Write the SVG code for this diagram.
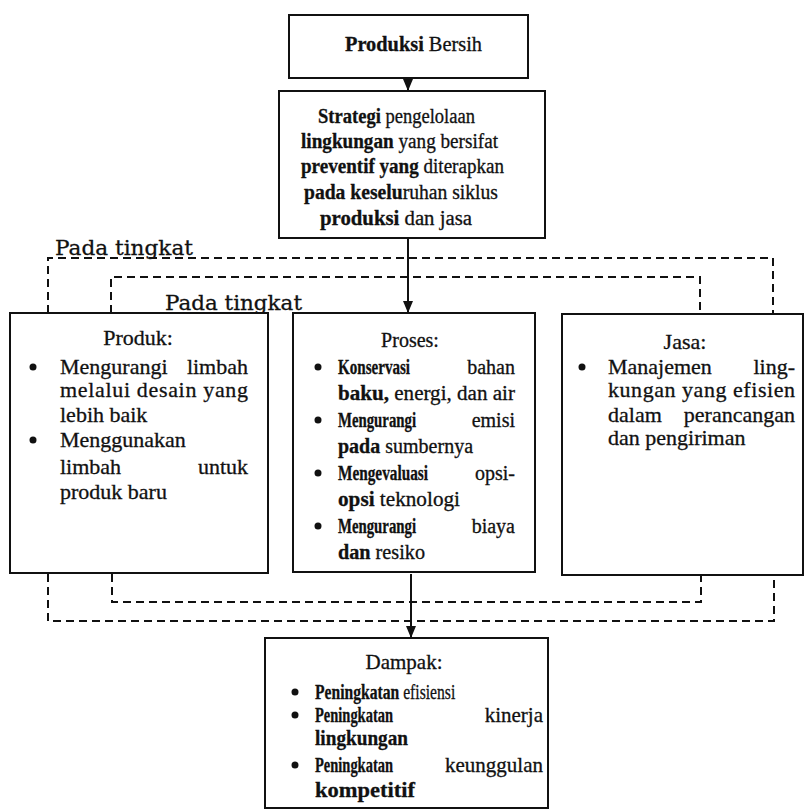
<svg xmlns="http://www.w3.org/2000/svg" width="806" height="811" viewBox="0 0 806 811">
<style>
.box{fill:#fff;stroke:#111;stroke-width:2}
.t{font-family:"Liberation Serif","Times New Roman",serif;fill:#111;stroke:#111;stroke-width:0.3}
.s20{font-size:20px}.s21{font-size:21px}.s22{font-size:22px}
.b{font-weight:bold}
.e{text-anchor:end}.m{text-anchor:middle}
.dash{fill:none;stroke:#111;stroke-width:2;stroke-dasharray:8 5}
.arr{fill:none;stroke:#111;stroke-width:2;marker-end:url(#ah)}
.pt{font-family:"DejaVu Serif",serif;font-size:21px;fill:#111;stroke:#111;stroke-width:0.3}
.dot{fill:#111}
</style>
<defs>
<marker id="ah" viewBox="0 0 12 10" refX="12" refY="5" markerWidth="12" markerHeight="10" markerUnits="userSpaceOnUse" orient="auto">
<path d="M0,0 L12,5 L0,10 z" fill="#111"/>
</marker>
</defs>
<rect width="806" height="811" fill="#fff"/>
<g id="connectors">
<path class="dash" d="M48,313 V258 H773 V313"/>
<path class="dash" d="M111,313 V277 H700 V313"/>
<path class="dash" d="M112,574 V602 H701 V575"/>
<path class="dash" d="M48,574 V621 H774 V575"/>
<path class="arr" d="M408,78 V91"/>
<path class="arr" d="M408,238 V313"/>
<path class="arr" d="M411,574 V638"/>
</g>
<g id="label-pada-1"><text class="pt" x="55" y="255" textLength="138" lengthAdjust="spacingAndGlyphs">Pada tingkat</text></g>
<g id="label-pada-2"><text class="pt" x="165" y="310" textLength="137" lengthAdjust="spacingAndGlyphs">Pada tingkat</text></g>
<g id="produksi-bersih">
<rect class="box" x="289" y="15" width="239" height="63"/>
<text class="t s21" x="345" y="51" textLength="137" lengthAdjust="spacingAndGlyphs"><tspan class="b">Produksi</tspan> Bersih</text>
</g>
<g id="strategi">
<rect class="box" x="279" y="91" width="266" height="147"/>
<text class="t s20" x="318" y="123" textLength="157" lengthAdjust="spacingAndGlyphs"><tspan class="b">Strategi</tspan> pengelolaan</text>
<text class="t s20" x="301" y="148" textLength="197" lengthAdjust="spacingAndGlyphs"><tspan class="b">lingkungan</tspan> yang bersifat</text>
<text class="t s20" x="301" y="173" textLength="203" lengthAdjust="spacingAndGlyphs"><tspan class="b">preventif yang</tspan> diterapkan</text>
<text class="t s20" x="304" y="199" textLength="194" lengthAdjust="spacingAndGlyphs"><tspan class="b">pada keselu</tspan>ruhan siklus</text>
<text class="t s20" x="320" y="225" textLength="152" lengthAdjust="spacingAndGlyphs"><tspan class="b">produksi</tspan> dan jasa</text>
</g>
<g id="produk">
<rect class="box" x="10" y="313" width="258" height="260"/>
<text class="t s22 m" x="138" y="345">Produk:</text>
<circle class="dot" cx="33" cy="367" r="3.5"/>
<text class="t s22" x="60" y="374">Mengurangi</text><text class="t s22 e" x="248" y="374">limbah</text>
<text class="t s22" x="60" y="397" textLength="188" lengthAdjust="spacing">melalui desain yang</text>
<text class="t s22" x="60" y="422">lebih baik</text>
<circle class="dot" cx="33" cy="440" r="3.5"/>
<text class="t s22" x="60" y="447">Menggunakan</text>
<text class="t s22" x="60" y="474">limbah</text><text class="t s22 e" x="248" y="474">untuk</text>
<text class="t s22" x="60" y="499">produk baru</text>
</g>
<g id="proses">
<rect class="box" x="293" y="313" width="242" height="259"/>
<text class="t s20 m" x="410" y="347">Proses:</text>
<circle class="dot" cx="318" cy="367" r="3.5"/>
<text class="t s20 b" x="338" y="374" textLength="72" lengthAdjust="spacingAndGlyphs">Konservasi</text><text class="t s20 e" x="515" y="374">bahan</text>
<text class="t s20" x="338" y="400" textLength="177" lengthAdjust="spacingAndGlyphs"><tspan class="b">baku,</tspan> energi, dan air</text>
<circle class="dot" cx="318" cy="420" r="3.5"/>
<text class="t s20 b" x="338" y="427" textLength="78" lengthAdjust="spacingAndGlyphs">Mengurangi</text><text class="t s20 e" x="515" y="427">emisi</text>
<text class="t s20" x="338" y="453"><tspan class="b">pada</tspan> sumbernya</text>
<circle class="dot" cx="318" cy="473" r="3.5"/>
<text class="t s20 b" x="338" y="480" textLength="90" lengthAdjust="spacingAndGlyphs">Mengevaluasi</text><text class="t s20 e" x="515" y="480">opsi-</text>
<text class="t s20" x="338" y="506" textLength="122" lengthAdjust="spacingAndGlyphs"><tspan class="b">opsi</tspan> teknologi</text>
<circle class="dot" cx="318" cy="526" r="3.5"/>
<text class="t s20 b" x="338" y="533" textLength="78" lengthAdjust="spacingAndGlyphs">Mengurangi</text><text class="t s20 e" x="515" y="533">biaya</text>
<text class="t s20" x="338" y="559" textLength="87" lengthAdjust="spacingAndGlyphs"><tspan class="b">dan</tspan> resiko</text>
</g>
<g id="jasa">
<rect class="box" x="562" y="314" width="241" height="261"/>
<text class="t s22 m" x="685" y="349">Jasa:</text>
<circle class="dot" cx="582" cy="367" r="3.5"/>
<text class="t s22" x="608" y="374">Manajemen</text><text class="t s22 e" x="795" y="374">ling-</text>
<text class="t s22" x="608" y="397" textLength="187" lengthAdjust="spacing">kungan yang efisien</text>
<text class="t s22" x="608" y="422">dalam</text><text class="t s22 e" x="795" y="422">perancangan</text>
<text class="t s22" x="608" y="445">dan pengiriman</text>
</g>
<g id="dampak">
<rect class="box" x="265" y="638" width="283" height="170"/>
<text class="t s21 m" x="404" y="669">Dampak:</text>
<circle class="dot" cx="295" cy="692" r="3.5"/>
<text class="t s21" transform="translate(315,699) scale(0.745,1)"><tspan class="b">Peningkatan</tspan> efisiensi</text>
<circle class="dot" cx="295" cy="715" r="3.5"/>
<text class="t s21 b" x="315" y="722" textLength="78" lengthAdjust="spacingAndGlyphs">Peningkatan</text><text class="t s21 e" x="543" y="722">kinerja</text>
<text class="t s21 b" x="315" y="745" textLength="93" lengthAdjust="spacingAndGlyphs">lingkungan</text>
<circle class="dot" cx="295" cy="765" r="3.5"/>
<text class="t s21 b" x="315" y="772" textLength="78" lengthAdjust="spacingAndGlyphs">Peningkatan</text><text class="t s21 e" x="543" y="772">keunggulan</text>
<text class="t s21 b" x="315" y="797" textLength="100" lengthAdjust="spacingAndGlyphs">kompetitif</text>
</g>
</svg>
